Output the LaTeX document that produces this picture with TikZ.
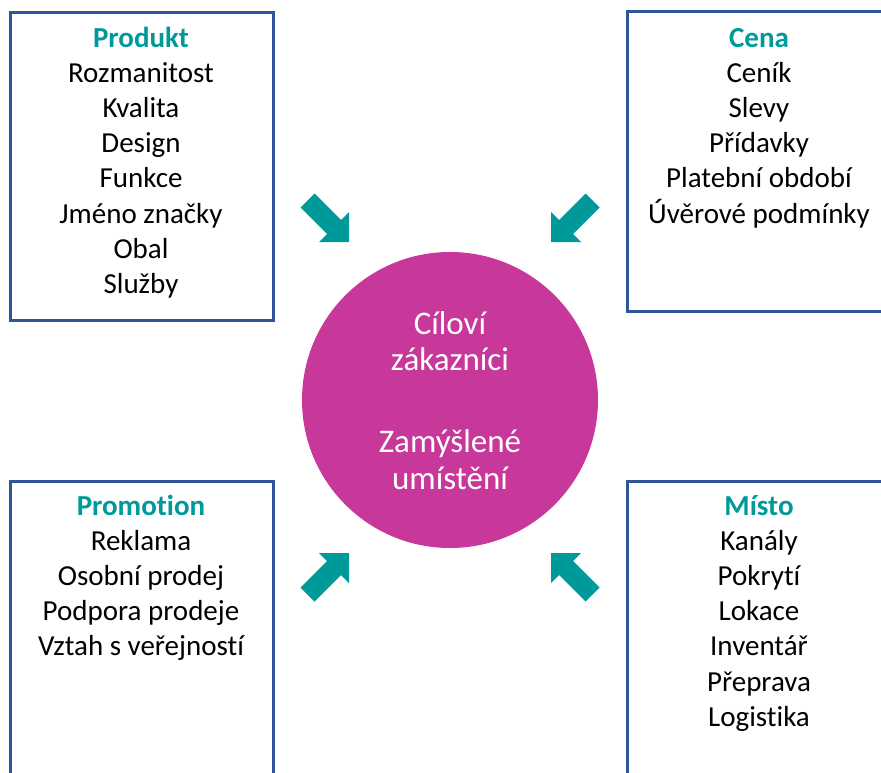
\documentclass[tikz,border=0pt]{standalone}
\usepackage{fontspec}
\setmainfont[Ligatures={NoCommon}]{Carlito}
\definecolor{boxblue}{RGB}{47,85,151}
\definecolor{mteal}{RGB}{0,153,153}
\definecolor{magentac}{RGB}{200,55,154}
\newcommand{\blockarrpath}{(0,0) -- (0,-30) -- (-8,-22) -- (-34.5,-48.5) -- (-48.5,-34.5) -- (-22,-8) -- (-30,0) -- cycle}
\tikzset{
  boxline/.style={draw=boxblue, line width=3pt},
  ttl/.style={anchor=base, font=\fontsize{29}{34}\selectfont\bfseries, text=mteal, inner sep=0},
  itm/.style={anchor=base, font=\fontsize{29}{34}\selectfont, text=black, inner sep=0},
  ctext/.style={anchor=base, font=\fontsize{33}{38}\selectfont, text=white, inner sep=0},
  arrfill/.style={fill=mteal}
}
\begin{document}
\begin{tikzpicture}[x=1pt,y=-1pt]
\useasboundingbox (0,0) rectangle (881,773);
\clip (0,0) rectangle (881,773);
% boxes
\coordinate (tlA) at (10,12.5); \coordinate (tlB) at (273,320);
\coordinate (trA) at (627,12); \coordinate (trB) at (895,311);
\coordinate (blA) at (10,481); \coordinate (blB) at (273,795);
\coordinate (brA) at (627,481); \coordinate (brB) at (895,795);
\draw[boxline] (tlA) rectangle (tlB);
\draw[boxline] (trA) rectangle (trB);
\draw[boxline] (blA) rectangle (blB);
\draw[boxline] (brA) rectangle (brB);
% circle
\node[circle, fill=magentac, minimum size=296pt, inner sep=0] (target) at (450,400) {};
\node[ctext] (c1) at (450,334) {Cíloví};
\node[ctext] (c2) at (450,370) {zákazníci};
\node[ctext] (c3) at (450,452) {Zamýšlené};
\node[ctext] (c4) at (450,489) {umístění};
% arrows
\fill[arrfill, shift={(349,242)}] \blockarrpath;
\fill[arrfill, shift={(551,242)}, xscale=-1] \blockarrpath;
\fill[arrfill, shift={(349,553)}, yscale=-1] \blockarrpath;
\fill[arrfill, shift={(551,553)}, xscale=-1, yscale=-1] \blockarrpath;
% texts
\node[ttl] (tlt) at (141,47.5) {Produkt};
\foreach \t [count=\i] in {Rozmanitost,Kvalita,Design,Funkce,Jméno značky,Obal,Služby}
  \node[itm] (tl\i) at (141,47.5+35.1*\i) {\t};
\node[ttl] (trt) at (759,47.5) {Cena};
\foreach \t [count=\i] in {Ceník,Slevy,Přídavky,Platební období,Úvěrové podmínky}
  \node[itm] (tr\i) at (759,47.5+35.1*\i) {\t};
\node[ttl] (blt) at (141,515.5) {Promotion};
\foreach \t [count=\i] in {Reklama,Osobní prodej,Podpora prodeje,Vztah s veřejností}
  \node[itm] (bl\i) at (141,515.5+35.1*\i) {\t};
\node[ttl] (brt) at (759,515.5) {Místo};
\foreach \t [count=\i] in {Kanály,Pokrytí,Lokace,Inventář,Přeprava,Logistika}
  \node[itm] (br\i) at (759,515.5+35.1*\i) {\t};
\end{tikzpicture}
\end{document}
